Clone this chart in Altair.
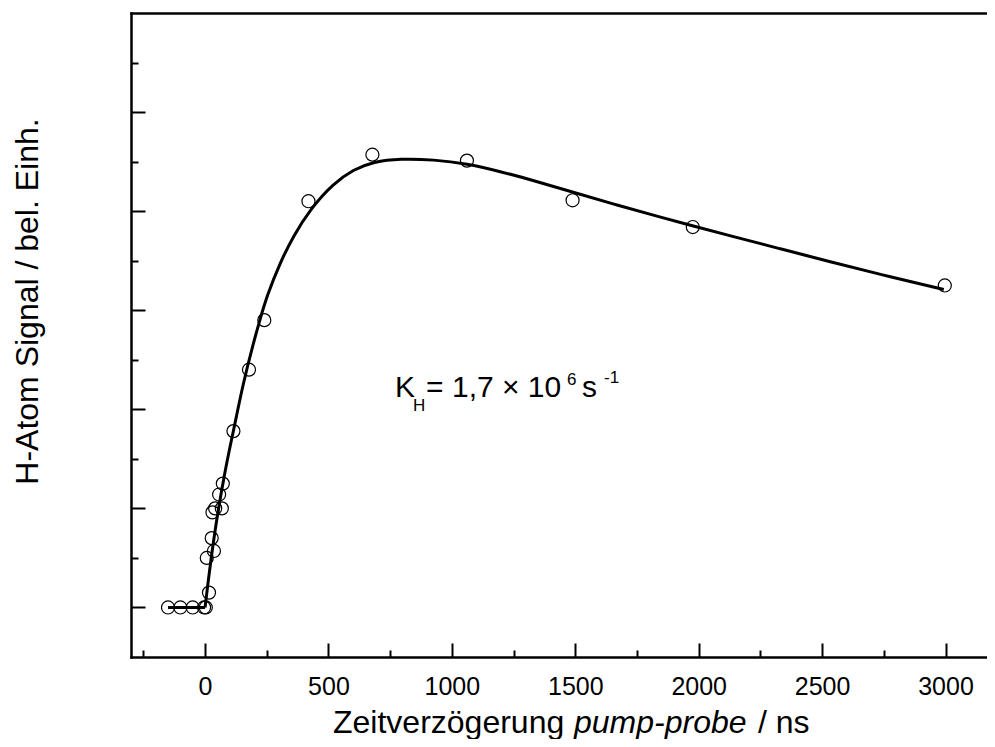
import altair as alt
import pandas as pd

FONT = "Liberation Sans"

# measured data points (time in ns, signal in arbitrary units)
pt_t = [-150, -100, -50, -4, 3, 16, 7, 36, 27, 30, 41, 68, 57, 72, 115, 178, 240, 419, 678, 1061, 1489, 1976, 2997]
pt_y = [0, 0, 0, 0, 0, 0.15, 0.50, 0.57, 0.70, 0.96, 1.00, 1.00, 1.14, 1.25, 1.78, 2.40, 2.90, 4.10, 4.57, 4.51, 4.11, 3.84, 3.25]

# baseline segment before t=0
base_t = [-150, 0]
base_y = [0, 0]

# fitted curve
fit_t = [0, 34, 81, 115, 155, 196, 223, 250, 304, 358, 426, 520, 601, 682, 791, 926,
         1061, 1196, 1331, 1493, 1669, 1845, 1980, 2128, 2331, 2533, 2736, 2993]
fit_y = [0, 0.70, 1.39, 1.78, 2.27, 2.67, 2.91, 3.14, 3.48, 3.75, 4.02, 4.28, 4.42, 4.50, 4.53, 4.52,
         4.48, 4.40, 4.31, 4.19, 4.06, 3.94, 3.85, 3.75, 3.62, 3.49, 3.36, 3.21]

x_major = [0, 500, 1000, 1500, 2000, 2500, 3000]
x_minor = [-250, 250, 750, 1250, 1750, 2250, 2750]
y_major = [0, 1, 2, 3, 4, 5]
y_minor = [0.5, 1.5, 2.5, 3.5, 4.5, 5.5]

x_domain = [-300, 3168]
y_domain = [-0.5, 6]

ann_x = [770]
ann_y = [2.12]
ann_texts = ["K", "H", "= 1,7 \u00d7 10", "6", "s", "-1"]

y_title = "H-Atom Signal / bel. Einh."
x_title_parts = ["Zeitverz\u00f6gerung", "pump-probe", "/ ns"]

W, H = 856, 644

xs = alt.Scale(domain=x_domain, nice=False, zero=False)
ys = alt.Scale(domain=y_domain, nice=False, zero=False)

df_base = pd.DataFrame({"t": base_t, "y": base_y})
df_fit = pd.DataFrame({"t": fit_t, "y": fit_y})
df_pts = pd.DataFrame({"t": pt_t, "y": pt_y})

base_line = alt.Chart(df_base).mark_line(color="black", strokeWidth=3).encode(
    x=alt.X("t:Q", scale=xs, axis=alt.Axis(
        orient="bottom", values=x_major, format="d", ticks=False, tickSize=0,
        domain=True, domainColor="black", domainWidth=2.5, domainCap="square",
        labelFontSize=25, labelFont=FONT, labelColor="black", labelPadding=17,
        grid=False, title=None)),
    y=alt.Y("y:Q", scale=ys, axis=alt.Axis(
        orient="left", ticks=False, tickSize=0, labels=False,
        domain=True, domainColor="black", domainWidth=2.5, domainCap="square",
        grid=False, title=y_title, titleFont=FONT, titleFontSize=32,
        titleFontWeight="normal", titleColor="black", titleAngle=-90,
        titleX=-94, titleY=288, titleAlign="center", titleBaseline="alphabetic")),
)

fit_line = alt.Chart(df_fit).mark_line(color="black", strokeWidth=3, interpolate="basis").encode(
    x=alt.X("t:Q", scale=xs, axis=None),
    y=alt.Y("y:Q", scale=ys, axis=None),
)

points = alt.Chart(df_pts).mark_point(shape="circle", size=170, filled=False, color="black",
                                      strokeWidth=1.2, opacity=1).encode(
    x=alt.X("t:Q", scale=xs, axis=alt.Axis(
        orient="top", offset=-H, values=x_major, labels=False, domain=False,
        ticks=True, tickSize=14, tickWidth=2, tickColor="black", grid=False, title=None)),
    y=alt.Y("y:Q", scale=ys, axis=alt.Axis(
        orient="right", offset=-W, values=y_major, labels=False, domain=False,
        ticks=True, tickSize=14, tickWidth=2, tickColor="black", grid=False, title=None)),
)

def ann_layer(i, dx, dy, size, x_axis=None, y_axis=None):
    df = pd.DataFrame({"t": ann_x, "y": ann_y, "txt": [ann_texts[i]]})
    return alt.Chart(df).mark_text(align="left", baseline="alphabetic", dx=dx, dy=dy,
                                   fontSize=size, font=FONT, color="black").encode(
        x=alt.X("t:Q", scale=xs, axis=x_axis),
        y=alt.Y("y:Q", scale=ys, axis=y_axis),
        text="txt:N",
    )

minor_x_axis = alt.Axis(orient="top", offset=-H, values=x_minor, labels=False, domain=False,
                        ticks=True, tickSize=7, tickWidth=2, tickColor="black", grid=False, title=None)
minor_y_axis = alt.Axis(orient="right", offset=-W, values=y_minor, labels=False, domain=False,
                        ticks=True, tickSize=7, tickWidth=2, tickColor="black", grid=False, title=None)
top_axis = alt.Axis(orient="top", labels=False, ticks=False, tickSize=0, domain=True,
                    domainColor="black", domainWidth=2.5, domainCap="square", grid=False, title=None)

a_K = ann_layer(0, 0, 0, 30, minor_x_axis, minor_y_axis)
a_H = ann_layer(1, 18, 14, 17, top_axis, None)
a_eq = ann_layer(2, 31, 0, 30)
a_6 = ann_layer(3, 172, -12.5, 17)
a_s = ann_layer(4, 187, 0, 30)
a_m1 = ann_layer(5, 209, -14, 17)

def title_layer(i, xpx, italic=False):
    df = pd.DataFrame({"txt": [x_title_parts[i]]})
    return alt.Chart(df).mark_text(align="left", baseline="alphabetic", fontSize=32, font=FONT,
                                   fontStyle="italic" if italic else "normal", color="black").encode(
        x=alt.value(xpx), y=alt.value(720), text="txt:N")

t1 = title_layer(0, 202)
t2 = title_layer(1, 443, italic=True)
t3 = title_layer(2, 627)

chart = alt.layer(base_line, fit_line, points, a_K, a_H, a_eq, a_6, a_s, a_m1, t1, t2, t3).resolve_axis(
    x="independent", y="independent"
).properties(
    width=W, height=H,
    autosize=alt.AutoSizeParams(type="none"),
    padding={"left": 123, "top": 5, "right": 0, "bottom": 82},
    background="white",
).configure_view(stroke=None)

chart.save("out.html", embed_options={"renderer": "svg", "actions": False})
